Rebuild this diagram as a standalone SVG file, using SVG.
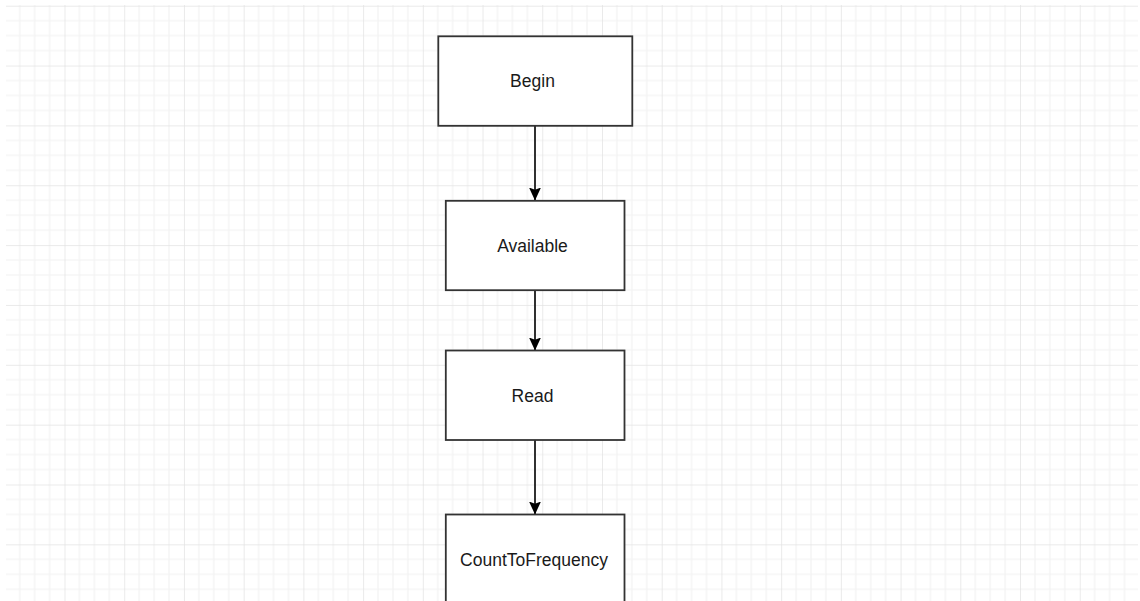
<svg xmlns="http://www.w3.org/2000/svg" width="1140" height="601" viewBox="0 0 1140 601">
  <style>
    .box { fill: #ffffff; stroke: #333333; stroke-width: 1.8; }
    .label { font-family: "Liberation Sans", Arial, sans-serif; font-size: 17.5px; fill: #1a1a1a; text-anchor: middle; dominant-baseline: central; }
    .edge { fill: none; stroke: #1a1a1a; stroke-width: 1.8; }
    .minor { stroke: #f2f2f2; stroke-width: 1.2; }
    .major { stroke: #e3e3e3; stroke-width: 1.5; }
  </style>
  <defs>
    <pattern id="grid" patternUnits="userSpaceOnUse" x="4.78" y="5.7" width="59.72" height="59.85">
      <line class="minor" x1="14.93" y1="0" x2="14.93" y2="59.85"/>
      <line class="minor" x1="29.86" y1="0" x2="29.86" y2="59.85"/>
      <line class="minor" x1="44.79" y1="0" x2="44.79" y2="59.85"/>
      <line class="minor" x1="0" y1="14.96" x2="59.72" y2="14.96"/>
      <line class="minor" x1="0" y1="29.92" x2="59.72" y2="29.92"/>
      <line class="minor" x1="0" y1="44.89" x2="59.72" y2="44.89"/>
      <line class="major" x1="0" y1="0" x2="0" y2="59.85"/>
      <line class="major" x1="0" y1="0" x2="59.72" y2="0"/>
    </pattern>
    <marker id="arrow" markerUnits="userSpaceOnUse" markerWidth="14" markerHeight="14" refX="12.5" refY="6.5" orient="auto" viewBox="0 0 14 13">
      <path d="M0,0.5 L13,6.5 L0,12.5 L2.2,6.5 Z" fill="#000000"/>
    </marker>
  </defs>
  <rect x="0" y="0" width="1140" height="601" fill="#ffffff"/>
  <rect x="6" y="5" width="1132" height="596" fill="url(#grid)"/>

  <g id="connectors">
    <line class="edge" x1="535" y1="126" x2="535" y2="200" marker-end="url(#arrow)"/>
    <line class="edge" x1="535" y1="290" x2="535" y2="350" marker-end="url(#arrow)"/>
    <line class="edge" x1="535" y1="440" x2="535" y2="514" marker-end="url(#arrow)"/>
  </g>

  <g id="begin">
    <rect class="box" x="438.3" y="36.3" width="194" height="89.5"/>
    <text class="label" x="532.5" y="81">Begin</text>
  </g>
  <g id="available">
    <rect class="box" x="445.8" y="200.8" width="178.7" height="89.4"/>
    <text class="label" x="532.5" y="245.5">Available</text>
  </g>
  <g id="read">
    <rect class="box" x="445.8" y="350.5" width="178.7" height="89.5"/>
    <text class="label" x="532.5" y="395.5">Read</text>
  </g>
  <g id="counttofrequency">
    <rect class="box" x="445.8" y="514.5" width="178.7" height="89.5"/>
    <text class="label" x="534" y="560">CountToFrequency</text>
  </g>
</svg>
